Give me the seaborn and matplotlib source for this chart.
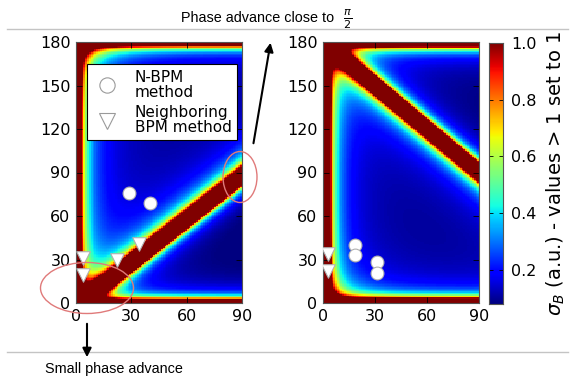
import numpy as np
import matplotlib
matplotlib.use("Agg")
import matplotlib.pyplot as plt
import seaborn as sns
from matplotlib.lines import Line2D
from matplotlib.patches import Ellipse

# phase advance grid, 1 deg cells
phi12 = np.arange(0.5, 90, 1.0)     # x axis of both panels
phi_y = np.arange(0.5, 180, 1.0)    # y axis (phi13 left, phi23 right)

nbpm_left_x = [29, 40]
nbpm_left_y = [76, 69]
nb_left_x = [4, 4, 22, 34]
nb_left_y = [31, 19, 30, 41]
nbpm_right_x = [18.5, 18.5, 31, 31]
nbpm_right_y = [40, 33, 28, 21]
nb_right_x = [3, 3]
nb_right_y = [34, 22]

x_ticks = [0, 30, 60, 90]
y_ticks = [0, 30, 60, 90, 120, 150, 180]
cbar_ticks = [0.2, 0.4, 0.6, 0.8, 1.0]

# sigma_B bands: width (deg) where the map saturates, fall-off exponent
left_bands = {"phi12": (3.2, 1.15), "phi13": (3.0, 1.5),
              "diag_up": (7.0, 1.4), "diag_down": (7.0, 2.2)}
right_bands = {"phi12": (4.4, 1.5), "phi23": (3.5, 1.5),
               "anti_low": (7.0, 1.5), "anti_up": (7.0, 2.0)}
diag_offset = -2.0
right_floor = 0.02


def band(dist, d0, p):
    s = np.maximum(np.abs(np.sin(np.radians(dist))), 1e-6)
    return 0.9 * (np.sin(np.radians(d0)) / s) ** p


X, Y = np.meshgrid(phi12, phi_y)

g = Y - X - diag_offset
sig_left = (band(X, *left_bands["phi12"]) + band(Y, *left_bands["phi13"])
            + np.where(g > 0, band(g, *left_bands["diag_up"]),
                       band(g, *left_bands["diag_down"])))
sig_left = np.clip(sig_left, 0, 1)

s = X + Y - 180
sig_right = (right_floor + band(X, *right_bands["phi12"]) + band(Y, *right_bands["phi23"])
             + np.where(s < 0, band(s, *right_bands["anti_low"]),
                        band(s, *right_bands["anti_up"])))
sig_right = np.clip(sig_right, 0, 1)

W, H = 570, 377
fig = plt.figure(figsize=(W / 100, H / 100), dpi=100)


def px_axes(x0, y0, x1, y1):
    return fig.add_axes([x0 / W, 1 - y1 / H, (x1 - x0) / W, (y1 - y0) / H])


axL = px_axes(76, 42, 242, 303)
axR = px_axes(323, 42, 479, 303)
cax = px_axes(489, 43, 503, 304)

sns.heatmap(sig_left, ax=axL, cmap="jet", vmin=0.08, vmax=1.0, cbar=False,
            xticklabels=False, yticklabels=False, rasterized=True)
sns.heatmap(sig_right, ax=axR, cmap="jet", vmin=0.08, vmax=1.0, cbar_ax=cax,
            cbar_kws={"ticks": cbar_ticks},
            xticklabels=False, yticklabels=False, rasterized=True)

mk = dict(color="white", edgecolor="#b0b0b0", linewidth=0.8, legend=False, zorder=5)
sns.scatterplot(x=nbpm_left_x, y=nbpm_left_y, ax=axL, marker="o", s=85, **mk)
sns.scatterplot(x=nb_left_x, y=nb_left_y, ax=axL, marker="v", s=95, **mk)
sns.scatterplot(x=nbpm_right_x, y=nbpm_right_y, ax=axR, marker="o", s=85, **mk)
sns.scatterplot(x=nb_right_x, y=nb_right_y, ax=axR, marker="v", s=95, **mk)

for ax, ylab in [(axL, r"$\Delta\phi_{1,3}$ (deg)"), (axR, r"$\Delta\phi_{2,3}$ (deg)")]:
    ax.set_xlim(0, 90)
    ax.set_ylim(0, 180)
    ax.set_xticks(x_ticks)
    ax.set_xticklabels([str(t) for t in x_ticks])
    ax.set_yticks(y_ticks)
    ax.set_yticklabels([str(t) for t in y_ticks])
    ax.tick_params(direction="in", top=True, right=True, length=4,
                   width=0.6, labelsize=11.5, pad=4, color="k")
    for sp in ax.spines.values():
        sp.set_visible(True)
        sp.set_color("#555555")
        sp.set_linewidth(0.8)
    ax.set_xlabel(r"$\Delta\phi_{1,2}$ (deg)", fontsize=12, labelpad=1)
    ax.set_ylabel(ylab, fontsize=12, labelpad=2)

cax.tick_params(direction="in", left=True, right=True, length=3, width=0.6,
                labelsize=11.5, pad=6)
cax.set_ylabel(r"$\sigma_B$ (a.u.) - values > 1 set to 1", fontsize=14, labelpad=6)
for sp in cax.spines.values():
    sp.set_visible(True)
    sp.set_color("#555555")

handles = [
    Line2D([], [], marker="o", ls="", ms=11, mfc="white", mec="#9a9a9a", mew=0.8),
    Line2D([], [], marker="v", ls="", ms=12, mfc="white", mec="#9a9a9a", mew=0.8),
]
leg = axL.legend(handles, ["N-BPM\nmethod", "Neighboring\nBPM method"],
                 loc="upper left", bbox_to_anchor=(0.065, 0.915), fontsize=11,
                 frameon=True, fancybox=False, framealpha=1, edgecolor="black",
                 borderpad=0.35, labelspacing=0.35, handletextpad=0.8,
                 handlelength=2.0, borderaxespad=0)
leg.get_frame().set_linewidth(0.8)
for t in leg.get_texts():
    t.set_linespacing(1.0)

# annotations in pixel coordinates of the whole picture
ov = fig.add_axes([0, 0, 1, 1], zorder=10)
ov.set_xlim(0, W)
ov.set_ylim(H, 0)
ov.axis("off")
ov.patch.set_alpha(0)
ov.plot([7, 568], [29, 29], color="#c4c4c4", lw=1)
ov.plot([7, 568], [352, 352], color="#c4c4c4", lw=1)
ov.text(181, 18, "Phase advance close to", fontsize=10.4, family="Liberation Sans",
        ha="left", va="center")
ov.text(348, 19, r"$\frac{\pi}{2}$", fontsize=11.5, ha="center", va="center")
ov.text(45, 369, "Small phase advance", fontsize=10.4, family="Liberation Sans",
        ha="left", va="center")
arrow = dict(arrowstyle="-|>", color="black", lw=1.5, mutation_scale=13)
ov.annotate("", xy=(271, 40), xytext=(253, 146), arrowprops=arrow)
ov.annotate("", xy=(87, 360), xytext=(87, 321), arrowprops=arrow)
ov.add_patch(Ellipse((87, 288), 93, 51, fill=False, edgecolor="#e07a7a", lw=1))
ov.add_patch(Ellipse((240, 177), 34, 51, fill=False, edgecolor="#e07a7a", lw=1))

fig.savefig("out.png", dpi=100)
